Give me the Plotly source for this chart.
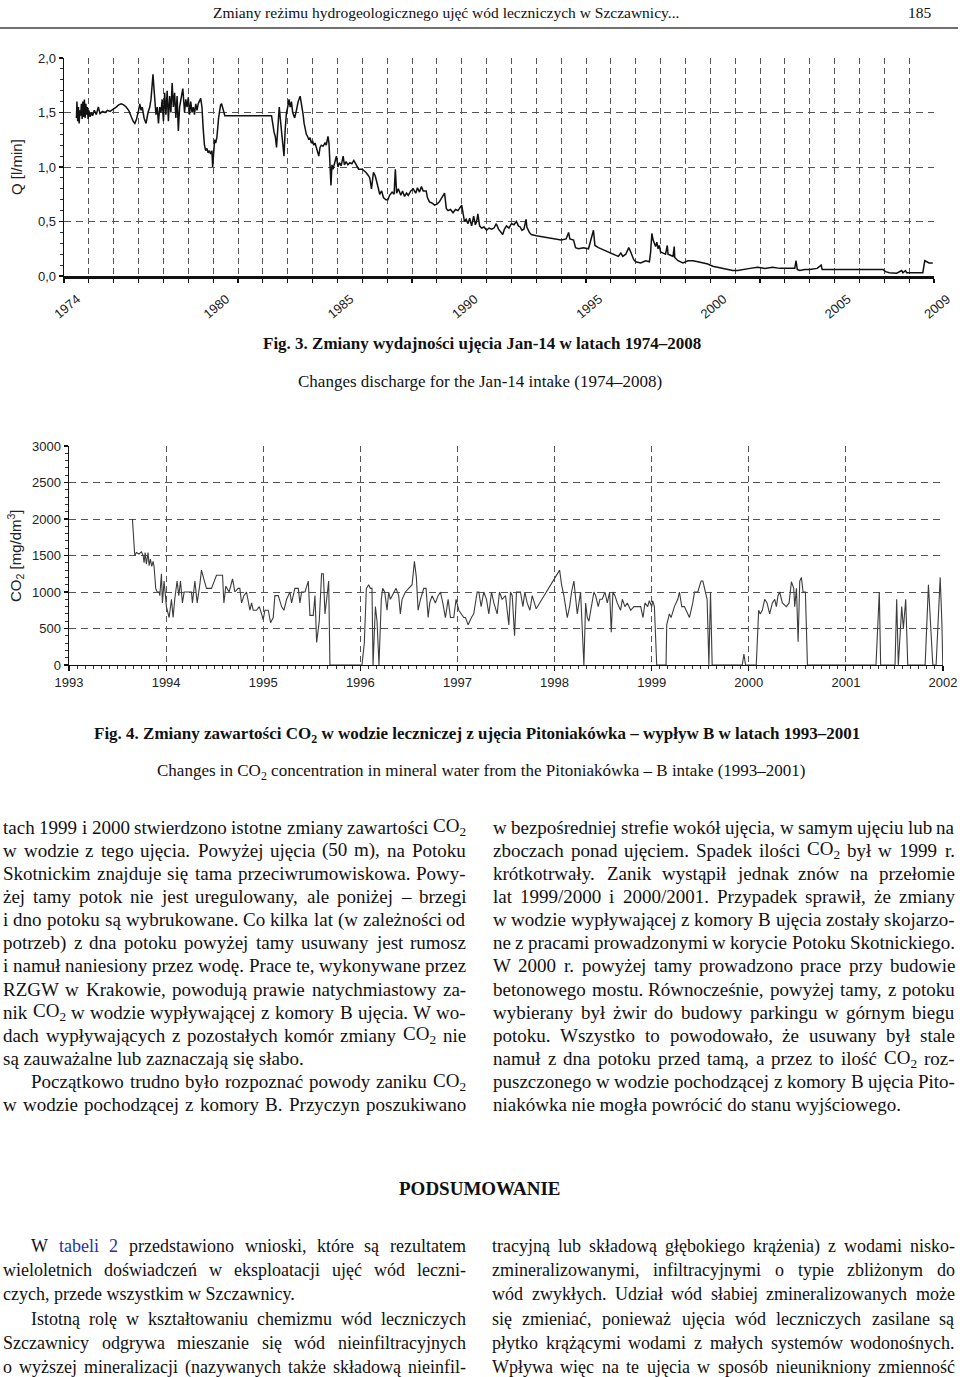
import plotly.graph_objects as go

W, H = 960, 1377

# ---------------- data: Fig. 3 (discharge Q, l/min) ----------------
q_year = [1974.50, 1974.52, 1974.55, 1974.58, 1974.61, 1974.64, 1974.67, 1974.70, 1974.73, 1974.76,
          1974.79, 1974.82, 1974.85, 1974.88, 1974.91, 1974.94, 1974.97, 1975.00, 1975.05, 1975.10,
          1975.15, 1975.22, 1975.30, 1975.38, 1975.45, 1975.55, 1975.65, 1975.75, 1975.85, 1976.00,
          1976.10, 1976.20, 1976.30, 1976.40, 1976.50, 1976.60, 1976.70, 1976.78, 1976.85, 1976.92,
          1977.00, 1977.05, 1977.10, 1977.15, 1977.22, 1977.30, 1977.38, 1977.45, 1977.50, 1977.58,
          1977.62, 1977.65, 1977.70, 1977.75, 1977.80, 1977.85, 1977.90, 1977.95, 1978.00, 1978.05,
          1978.10, 1978.15, 1978.20, 1978.25, 1978.30, 1978.35, 1978.40, 1978.45, 1978.50, 1978.55,
          1978.60, 1978.65, 1978.72, 1978.78, 1978.85, 1978.90, 1978.95, 1979.00, 1979.05, 1979.10,
          1979.15, 1979.20, 1979.25, 1979.30, 1979.35, 1979.40, 1979.50, 1979.55, 1979.60, 1979.65,
          1979.70, 1979.75, 1979.80, 1979.85, 1979.90, 1979.95, 1979.98, 1980.02, 1980.06, 1980.10,
          1980.15, 1980.22, 1980.30, 1980.34, 1980.40, 1980.47, 1982.35, 1982.40, 1982.45, 1982.50,
          1982.55, 1982.60, 1982.66, 1982.72, 1982.80, 1982.85, 1982.90, 1982.95, 1983.00, 1983.05,
          1983.10, 1983.15, 1983.20, 1983.28, 1983.35, 1983.42, 1983.50, 1983.56, 1983.62, 1983.66,
          1983.70, 1983.75, 1983.80, 1983.85, 1983.90, 1983.95, 1984.00, 1984.05, 1984.10, 1984.15,
          1984.25, 1984.30, 1984.35, 1984.42, 1984.50, 1984.55, 1984.62, 1984.66, 1984.70, 1984.74,
          1984.78, 1984.82, 1984.88, 1984.96, 1985.02, 1985.08, 1985.15, 1985.23, 1985.28, 1985.35,
          1985.42, 1985.50, 1985.58, 1985.66, 1985.76, 1985.85, 1986.00, 1986.15, 1986.25, 1986.30,
          1986.37, 1986.45, 1986.52, 1986.58, 1986.65, 1986.70, 1986.78, 1986.85, 1986.95, 1987.03,
          1987.10, 1987.20, 1987.28, 1987.33, 1987.38, 1987.45, 1987.55, 1987.62, 1987.70, 1987.78,
          1987.85, 1987.95, 1988.05, 1988.15, 1988.22, 1988.30, 1988.38, 1988.45, 1988.57, 1988.62,
          1988.70, 1988.80, 1988.91, 1989.00, 1989.10, 1989.20, 1989.31, 1989.38, 1989.45, 1989.55,
          1989.65, 1989.75, 1989.85, 1990.00, 1990.11, 1990.18, 1990.25, 1990.32, 1990.40, 1990.48,
          1990.55, 1990.60, 1990.65, 1990.72, 1990.80, 1990.90, 1991.00, 1991.10, 1991.20, 1991.30,
          1991.39, 1991.48, 1991.58, 1991.65, 1991.72, 1991.80, 1991.90, 1992.00, 1992.10, 1992.20,
          1992.28, 1992.35, 1992.42, 1992.50, 1992.59, 1992.62, 1992.72, 1992.80, 1993.00, 1993.30,
          1993.60, 1993.90, 1994.00, 1994.20, 1994.30, 1994.35, 1994.50, 1994.58, 1994.70, 1994.90,
          1995.10, 1995.30, 1995.36, 1995.50, 1995.70, 1995.90, 1996.10, 1996.30, 1996.40, 1996.48,
          1996.60, 1996.72, 1996.80, 1996.92, 1997.00, 1997.20, 1997.40, 1997.55, 1997.60, 1997.65,
          1997.70, 1997.75, 1997.80, 1997.85, 1997.90, 1997.95, 1998.00, 1998.10, 1998.20, 1998.27,
          1998.30, 1998.40, 1998.50, 1998.55, 1998.57, 1998.70, 1998.90, 1999.10, 1999.30, 1999.50,
          1999.70, 1999.90, 2000.10, 2000.30, 2000.50, 2000.70, 2000.90, 2001.10, 2001.30, 2001.60,
          2001.90, 2002.20, 2002.50, 2002.80, 2003.10, 2003.40, 2003.45, 2003.50, 2003.60, 2003.80,
          2004.00, 2004.30, 2004.46, 2004.50, 2005.00, 2005.50, 2006.00, 2006.95, 2007.05, 2007.20,
          2007.50, 2007.70, 2007.75, 2007.85, 2007.90, 2008.20, 2008.55, 2008.63, 2008.70, 2008.80,
          2008.95]
q_value = [1.45, 1.60, 1.42, 1.55, 1.40, 1.52, 1.47, 1.58, 1.44, 1.60,
           1.46, 1.62, 1.45, 1.58, 1.48, 1.55, 1.44, 1.52, 1.46, 1.50,
           1.47, 1.52, 1.48, 1.55, 1.49, 1.51, 1.50, 1.52, 1.51, 1.53,
           1.55, 1.57, 1.58, 1.57, 1.55, 1.52, 1.46, 1.42, 1.40, 1.44,
           1.52, 1.58, 1.52, 1.55, 1.45, 1.40, 1.50, 1.55, 1.62, 1.85,
           1.72, 1.60, 1.48, 1.55, 1.40, 1.55, 1.50, 1.62, 1.42, 1.68,
           1.48, 1.70, 1.42, 1.65, 1.50, 1.77, 1.55, 1.68, 1.45, 1.65,
           1.33, 1.55, 1.66, 1.72, 1.50, 1.62, 1.55, 1.64, 1.48, 1.60,
           1.50, 1.55, 1.48, 1.58, 1.52, 1.58, 1.63, 1.55, 1.35, 1.20,
           1.15, 1.17, 1.13, 1.15, 1.12, 1.15, 1.00, 1.18, 1.25, 1.22,
           1.27, 1.45, 1.57, 1.58, 1.52, 1.47, 1.47, 1.38, 1.32, 1.28,
           1.18, 1.35, 1.55, 1.40, 1.20, 1.10, 1.35, 1.50, 1.55, 1.62,
           1.55, 1.60, 1.50, 1.45, 1.52, 1.60, 1.65, 1.58, 1.48, 1.40,
           1.35, 1.30, 1.28, 1.25, 1.27, 1.22, 1.24, 1.20, 1.22, 1.18,
           1.10, 1.18, 1.20, 1.19, 1.22, 1.20, 1.28, 1.22, 1.00, 0.83,
           1.02, 0.98, 1.03, 1.10, 1.00, 1.04, 1.01, 1.10, 1.02, 1.05,
           1.02, 1.04, 1.03, 1.06, 1.02, 0.98, 0.98, 0.95, 0.92, 0.90,
           0.80, 0.95, 0.92, 0.85, 0.80, 0.75, 0.78, 0.72, 0.70, 0.70,
           0.74, 0.77, 0.75, 0.98, 0.76, 0.80, 0.74, 0.78, 0.73, 0.76,
           0.74, 0.78, 0.80, 0.76, 0.81, 0.77, 0.82, 0.78, 0.78, 0.72,
           0.68, 0.67, 0.65, 0.66, 0.68, 0.72, 0.76, 0.62, 0.60, 0.61,
           0.58, 0.61, 0.60, 0.65, 0.50, 0.52, 0.48, 0.53, 0.46, 0.55,
           0.47, 0.50, 0.57, 0.46, 0.44, 0.45, 0.42, 0.44, 0.43, 0.44,
           0.48, 0.43, 0.40, 0.38, 0.43, 0.46, 0.44, 0.48, 0.47, 0.50,
           0.46, 0.45, 0.42, 0.43, 0.52, 0.45, 0.40, 0.38, 0.37, 0.36,
           0.35, 0.34, 0.33, 0.34, 0.40, 0.34, 0.33, 0.26, 0.25, 0.26,
           0.25, 0.42, 0.28, 0.26, 0.24, 0.22, 0.20, 0.18, 0.21, 0.18,
           0.20, 0.26, 0.22, 0.15, 0.13, 0.12, 0.14, 0.13, 0.22, 0.39,
           0.33, 0.30, 0.27, 0.31, 0.25, 0.28, 0.22, 0.21, 0.20, 0.28,
           0.20, 0.19, 0.18, 0.27, 0.17, 0.14, 0.12, 0.14, 0.14, 0.13,
           0.12, 0.11, 0.09, 0.08, 0.07, 0.06, 0.05, 0.05, 0.06, 0.07,
           0.08, 0.07, 0.08, 0.07, 0.07, 0.07, 0.14, 0.06, 0.05, 0.06,
           0.06, 0.07, 0.10, 0.06, 0.06, 0.06, 0.06, 0.06, 0.04, 0.03,
           0.025, 0.05, 0.03, 0.05, 0.03, 0.03, 0.03, 0.14, 0.13, 0.12,
           0.12]

q_labeled_years = [1974, 1980, 1985, 1990, 1995, 2000, 2005, 2009]
q_y_ticks = [0.0, 0.5, 1.0, 1.5, 2.0]
q_y_labels = ["0,0", "0,5", "1,0", "1,5", "2,0"]

# ---------------- data: Fig. 4 (CO2, mg/dm3) ----------------
co2_year = [1993.653, 1993.677, 1993.694, 1993.720, 1993.746, 1993.763, 1993.773, 1993.784, 1993.797, 1993.814,
            1993.825, 1993.838, 1993.852, 1993.866, 1993.876, 1993.893, 1993.907, 1993.928, 1993.935, 1993.952,
            1993.962, 1993.979, 1994.003, 1994.031, 1994.055, 1994.072, 1994.089, 1994.113, 1994.131, 1994.148,
            1994.168, 1994.186, 1994.261, 1994.271, 1994.296, 1994.320, 1994.347, 1994.364, 1994.388, 1994.416,
            1994.467, 1994.519, 1994.581, 1994.595, 1994.615, 1994.649, 1994.684, 1994.708, 1994.742, 1994.759,
            1994.777, 1994.801, 1994.828, 1994.845, 1994.863, 1994.880, 1994.897, 1994.931, 1994.959, 1994.983,
            1995.000, 1995.017, 1995.052, 1995.076, 1995.103, 1995.120, 1995.155, 1995.189, 1995.213, 1995.241,
            1995.275, 1995.292, 1995.326, 1995.361, 1995.378, 1995.395, 1995.430, 1995.464, 1995.481, 1995.515,
            1995.533, 1995.550, 1995.577, 1995.601, 1995.619, 1995.636, 1995.660, 1995.674, 1995.687, 1996.017,
            1996.041, 1996.062, 1996.086, 1996.103, 1996.120, 1996.131, 1996.155, 1996.172, 1996.192, 1996.216,
            1996.230, 1996.251, 1996.275, 1996.292, 1996.309, 1996.344, 1996.368, 1996.395, 1996.412, 1996.430,
            1996.464, 1996.498, 1996.533, 1996.557, 1996.577, 1996.595, 1996.619, 1996.653, 1996.677, 1996.698,
            1996.715, 1996.739, 1996.773, 1996.801, 1996.825, 1996.849, 1996.876, 1996.904, 1996.928, 1996.962,
            1996.986, 1997.014, 1997.041, 1997.065, 1997.082, 1997.110, 1997.144, 1997.168, 1997.203, 1997.220,
            1997.244, 1997.271, 1997.299, 1997.323, 1997.351, 1997.375, 1997.409, 1997.433, 1997.460, 1997.495,
            1997.529, 1997.546, 1997.564, 1997.588, 1997.608, 1997.649, 1997.674, 1997.694, 1997.718, 1997.746,
            1997.770, 1997.811, 1998.052, 1998.072, 1998.096, 1998.131, 1998.155, 1998.175, 1998.199, 1998.216,
            1998.234, 1998.268, 1998.285, 1998.302, 1998.320, 1998.337, 1998.354, 1998.381, 1998.405, 1998.423,
            1998.450, 1998.467, 1998.491, 1998.519, 1998.543, 1998.567, 1998.584, 1998.601, 1998.622, 1998.646,
            1998.680, 1998.698, 1998.725, 1998.749, 1998.784, 1998.818, 1998.852, 1998.887, 1998.911, 1998.931,
            1998.959, 1998.976, 1999.000, 1999.010, 1999.028, 1999.052, 1999.148, 1999.155, 1999.182, 1999.200,
            1999.234, 1999.269, 1999.286, 1999.310, 1999.337, 1999.389, 1999.423, 1999.441, 1999.475, 1999.509,
            1999.527, 1999.544, 1999.571, 1999.589, 1999.606, 1999.623, 1999.933, 1999.950, 1999.967, 2000.077,
            2000.102, 2000.119, 2000.139, 2000.164, 2000.188, 2000.215, 2000.243, 2000.267, 2000.284, 2000.301,
            2000.318, 2000.346, 2000.387, 2000.415, 2000.439, 2000.463, 2000.473, 2000.491, 2000.508, 2000.525,
            2000.542, 2000.559, 2000.583, 2000.604, 2001.310, 2001.344, 2001.358, 2001.506, 2001.523, 2001.540,
            2001.575, 2001.592, 2001.616, 2001.637, 2001.816, 2001.850, 2001.895, 2001.929, 2001.971, 2001.988,
            2001.998]
co2_value = [2000, 1500, 1540, 1520, 1550, 1500, 1400, 1540, 1380, 1540,
             1360, 1450, 1350, 1420, 1350, 1050, 1000, 1000, 950, 1250,
             850, 1150, 800, 650, 900, 650, 900, 1150, 950, 1150,
             850, 1000, 1000, 850, 1150, 850, 1100, 1300, 1180, 1050,
             1050, 1230, 1230, 850, 1080, 1000, 1180, 1000, 1050, 1050,
             850, 950, 1000, 850, 750, 850, 750, 750, 800, 700,
             620, 750, 750, 580, 650, 950, 950, 800, 750, 900,
             1000, 850, 1050, 1050, 850, 1000, 1000, 1150, 680, 680,
             950, 310, 600, 1250, 1250, 700, 1000, 1150, 0, 0,
             300, 1050, 1100, 1050, 1050, 0, 800, 600, 0, 900,
             1050, 1000, 750, 1000, 900, 1000, 1050, 950, 700, 900,
             1000, 1050, 1100, 1420, 1200, 750, 900, 1050, 1050, 650,
             850, 950, 850, 950, 1000, 850, 650, 900, 650, 650,
             900, 750, 700, 650, 650, 550, 650, 700, 1000, 1000,
             800, 1000, 900, 700, 1000, 850, 700, 1000, 900, 950,
             550, 1000, 950, 400, 1000, 1000, 800, 1000, 850, 750,
             950, 770, 1300, 1100, 950, 650, 800, 1000, 1150, 900,
             700, 1000, 550, 0, 850, 650, 600, 800, 1000, 950,
             800, 900, 900, 1000, 850, 1000, 450, 1000, 950, 850,
             750, 900, 800, 850, 750, 800, 800, 800, 650, 850,
             800, 880, 800, 880, 800, 0, 0, 550, 700, 650,
             800, 900, 1000, 800, 800, 650, 850, 1000, 1000, 1150,
             1150, 1050, 900, 0, 1000, 0, 0, 150, 0, 0,
             750, 700, 750, 900, 850, 700, 850, 900, 800, 950,
             1000, 850, 800, 850, 1140, 1050, 800, 1050, 320, 1150,
             1200, 1000, 1000, 0, 0, 1000, 0, 0, 900, 0,
             800, 500, 900, 0, 0, 1100, 0, 0, 1200, 600,
             0]

co2_tick_years = list(range(1993, 2003))
co2_y_ticks = [0, 500, 1000, 1500, 2000, 2500, 3000]

# ---------------- page text ----------------
header_text = "Zmiany reżimu hydrogeologicznego ujęć wód leczniczych w Szczawnicy..."
page_number = "185"
fig3_title_pl = "<b>Fig. 3. Zmiany wydajności ujęcia Jan-14 w latach 1974–2008</b>"
fig3_title_en = "Changes discharge for the Jan-14 intake (1974–2008)"
fig4_title_pl = "<b>Fig. 4. Zmiany zawartości CO<sub>2</sub> w wodzie leczniczej z ujęcia Pitoniakówka – wypływ B w latach 1993–2001</b>"
fig4_title_en = "Changes in CO<sub>2</sub> concentration in mineral water from the Pitoniakówka – B intake (1993–2001)"
section_title = "<b>PODSUMOWANIE</b>"

# (text, justified, indent)
body_left = [
    ("tach 1999 i 2000 stwierdzono istotne zmiany zawartości CO₂", True, 0),
    ("w wodzie z tego ujęcia. Powyżej ujęcia (50 m), na Potoku", True, 0),
    ("Skotnickim znajduje się tama przeciwrumowiskowa. Powy-", True, 0),
    ("żej tamy potok nie jest uregulowany, ale poniżej – brzegi", True, 0),
    ("i dno potoku są wybrukowane. Co kilka lat (w zależności od", True, 0),
    ("potrzeb) z dna potoku powyżej tamy usuwany jest rumosz", True, 0),
    ("i namuł naniesiony przez wodę. Prace te, wykonywane przez", True, 0),
    ("RZGW w Krakowie, powodują prawie natychmiastowy za-", True, 0),
    ("nik CO₂ w wodzie wypływającej z komory B ujęcia. W wo-", True, 0),
    ("dach wypływających z pozostałych komór zmiany CO₂ nie", True, 0),
    ("są zauważalne lub zaznaczają się słabo.", False, 0),
    ("Początkowo trudno było rozpoznać powody zaniku CO₂", True, 28),
    ("w wodzie pochodzącej z komory B. Przyczyn poszukiwano", True, 0),
]
body_right = [
    ("w bezpośredniej strefie wokół ujęcia, w samym ujęciu lub na", True, 0),
    ("zboczach ponad ujęciem. Spadek ilości CO₂ był w 1999 r.", True, 0),
    ("krótkotrwały. Zanik wystąpił jednak znów na przełomie", True, 0),
    ("lat 1999/2000 i 2000/2001. Przypadek sprawił, że zmiany", True, 0),
    ("w wodzie wypływającej z komory B ujęcia zostały skojarzo-", True, 0),
    ("ne z pracami prowadzonymi w korycie Potoku Skotnickiego.", True, 0),
    ("W 2000 r. powyżej tamy prowadzono prace przy budowie", True, 0),
    ("betonowego mostu. Równocześnie, powyżej tamy, z potoku", True, 0),
    ("wybierany był żwir do budowy parkingu w górnym biegu", True, 0),
    ("potoku. Wszystko to powodowało, że usuwany był stale", True, 0),
    ("namuł z dna potoku przed tamą, a przez to ilość CO₂ roz-", True, 0),
    ("puszczonego w wodzie pochodzącej z komory B ujęcia Pito-", True, 0),
    ("niakówka nie mogła powrócić do stanu wyjściowego.", False, 0),
]
summary_left = [
    ("W tabeli 2 przedstawiono wnioski, które są rezultatem", True, 28),
    ("wieloletnich doświadczeń w eksploatacji ujęć wód leczni-", True, 0),
    ("czych, przede wszystkim w Szczawnicy.", False, 0),
    ("Istotną rolę w kształtowaniu chemizmu wód leczniczych", True, 28),
    ("Szczawnicy odgrywa mieszanie się wód nieinfiltracyjnych", True, 0),
    ("o wyższej mineralizacji (nazywanych także składową nieinfil-", True, 0),
]
summary_right = [
    ("tracyjną lub składową głębokiego krążenia) z wodami nisko-", True, 0),
    ("zmineralizowanymi, infiltracyjnymi o typie zbliżonym do", True, 0),
    ("wód zwykłych. Udział wód słabiej zmineralizowanych może", True, 0),
    ("się zmieniać, ponieważ ujęcia wód leczniczych zasilane są", True, 0),
    ("płytko krążącymi wodami z małych systemów wodonośnych.", True, 0),
    ("Wpływa więc na te ujęcia w sposób nieunikniony zmienność", True, 0),
]
blue_words = {"tabeli", "2"}

# ---------------- helpers ----------------
def px(x):
    return x / W

def py(y):
    return 1 - y / H

TIMES = {' ': 250, '!': 333, '(': 333, ')': 333, ',': 250, '-': 333, '.': 250, '/': 278, ':': 278,
         ';': 278, '?': 444, '–': 500,
         'A': 722, 'B': 667, 'C': 667, 'D': 722, 'E': 611, 'F': 556, 'G': 722, 'H': 722, 'I': 333,
         'J': 389, 'K': 722, 'L': 611, 'M': 889, 'N': 722, 'O': 722, 'P': 556, 'Q': 722, 'R': 667,
         'S': 556, 'T': 611, 'U': 722, 'V': 722, 'W': 944, 'X': 722, 'Y': 722, 'Z': 611,
         'a': 444, 'b': 500, 'c': 444, 'd': 500, 'e': 444, 'f': 333, 'g': 500, 'h': 500, 'i': 278,
         'j': 278, 'k': 500, 'l': 278, 'm': 778, 'n': 500, 'o': 500, 'p': 500, 'q': 500, 'r': 333,
         's': 389, 't': 278, 'u': 500, 'v': 500, 'w': 722, 'x': 500, 'y': 500, 'z': 444}
for d in '0123456789':
    TIMES[d] = 500
POL = {'ą': 'a', 'ę': 'e', 'ć': 'c', 'ł': 'l', 'ń': 'n', 'ó': 'o', 'ś': 's', 'ź': 'z', 'ż': 'z',
       'Ł': 'L', 'Ś': 'S', 'Ż': 'Z', 'Ź': 'Z', 'Ó': 'O', 'Ć': 'C', 'Ą': 'A', 'Ę': 'E', 'Ń': 'N'}

def word_width(word, size):
    total = 0
    for ch in word:
        if ch == '₂':
            total += 350
        else:
            total += TIMES.get(POL.get(ch, ch), 500)
    return total * size / 1000.0

def markup(word):
    return word.replace('₂', '<sub>2</sub>')

annotations = []

def add_text(text, x, y, size, anchor='center', color='#111', family='Liberation Serif', angle=0):
    annotations.append(dict(text=text, x=px(x), y=py(y), xref='paper', yref='paper', xanchor=anchor,
                            yanchor='middle', showarrow=False, borderpad=0, borderwidth=0, textangle=angle,
                            font=dict(family=family, size=size, color=color)))

def add_paragraph(lines, x0, x1, y0, dy, size, blue_line=None):
    for i, (text, justify, indent) in enumerate(lines):
        y = y0 + i * dy
        left = x0 + indent
        words = text.split(' ')
        if not justify or len(words) < 2:
            add_text(markup(text), left, y, size, anchor='left')
            continue
        widths = [word_width(w, size) for w in words]
        gap = (x1 - left - sum(widths)) / (len(words) - 1)
        gap = max(gap, 3.0)
        xpos = left
        for j, w in enumerate(words):
            col = '#2233aa' if (blue_line == i and w in blue_words) else '#111'
            if j == len(words) - 1:
                add_text(markup(w), x1, y, size, anchor='right', color=col)
            else:
                add_text(markup(w), xpos, y, size, anchor='left', color=col)
            xpos += widths[j] + gap

# ---------------- figure ----------------
fig = go.Figure()
fig.add_trace(go.Scatter(x=q_year, y=q_value, mode='lines', xaxis='x', yaxis='y',
                         line=dict(color='#111111', width=1.5), hoverinfo='skip', showlegend=False))
fig.add_trace(go.Scatter(x=co2_year, y=co2_value, mode='lines', xaxis='x2', yaxis='y2',
                         line=dict(color='#3c3c3c', width=1.1), hoverinfo='skip', showlegend=False))

grid_col = '#555555'
tick_font = dict(family='Liberation Sans', size=13, color='#222')
common = dict(automargin=False, zeroline=False, fixedrange=True)

fig.update_layout(
    template='none',
    width=W, height=H, margin=dict(l=0, r=0, t=0, b=0, pad=0), autosize=False,
    paper_bgcolor='white', plot_bgcolor='white', showlegend=False,
    xaxis=dict(domain=[px(64), px(934)], range=[1974, 2009], anchor='y',
               tickmode='array', tickvals=q_labeled_years, ticktext=[str(v) for v in q_labeled_years],
               tickangle=-40, tickfont=tick_font, ticklabelshift=13, ticklabelstandoff=4,
               showgrid=True, gridcolor=grid_col, griddash='6px,4px', gridwidth=1,
               showline=True, linecolor='#111', linewidth=2.6,
               ticks='outside', ticklen=4, tickwidth=1.2, tickcolor='#111',
               minor=dict(tickmode='linear', tick0=1974, dtick=1, ticks='outside', ticklen=4,
                          tickwidth=1.2, tickcolor='#111', showgrid=True, gridcolor=grid_col,
                          griddash='6px,4px', gridwidth=1),
               **common),
    yaxis=dict(domain=[py(276), py(58)], range=[0, 2.0], anchor='x',
               tickmode='array', tickvals=q_y_ticks, ticktext=q_y_labels, tickfont=tick_font,
               showgrid=True, gridcolor=grid_col, griddash='7px,5px', gridwidth=1,
               showline=True, linecolor='#111', linewidth=1.4,
               ticks='outside', ticklen=4, tickwidth=1.2, tickcolor='#111',
               minor=dict(tickmode='linear', tick0=0, dtick=0.1, ticks='outside', ticklen=3,
                          tickwidth=1, tickcolor='#333', showgrid=False),
               **common),
    xaxis2=dict(domain=[px(69), px(943)], range=[1993, 2002], anchor='y2',
                tickmode='array', tickvals=co2_tick_years, ticktext=[str(v) for v in co2_tick_years],
                tickfont=tick_font,
                showgrid=True, gridcolor=grid_col, griddash='6px,4px', gridwidth=1,
                showline=True, linecolor='#111', linewidth=1.4,
                ticks='outside', ticklen=5, tickwidth=1.2, tickcolor='#111',
                minor=dict(tickmode='linear', tick0=1993, dtick=1 / 12, ticks='outside', ticklen=3,
                           tickwidth=1, tickcolor='#333', showgrid=False),
                **common),
    yaxis2=dict(domain=[py(665), py(446)], range=[0, 3000], anchor='x2',
                tickmode='array', tickvals=co2_y_ticks, ticktext=[str(v) for v in co2_y_ticks],
                tickfont=tick_font,
                showgrid=True, gridcolor=grid_col, griddash='7px,5px', gridwidth=1,
                showline=True, linecolor='#111', linewidth=1.4,
                ticks='outside', ticklen=4, tickwidth=1.2, tickcolor='#111',
                minor=dict(tickmode='linear', tick0=0, dtick=100, ticks='outside', ticklen=3,
                           tickwidth=1, tickcolor='#333', showgrid=False),
                **common),
)

# header and rule
add_text(header_text, 446, 12, 15.5)
add_text(page_number, 920, 12, 15.5)
fig.add_shape(type='line', xref='paper', yref='paper', x0=px(0), x1=px(958), y0=py(28), y1=py(28),
              line=dict(color='#707070', width=2))

# axis titles
add_text("Q [l/min]", 17, 167, 15, family='Liberation Sans', angle=-90, color='#222')
add_text("CO<sub>2</sub> [mg/dm<sup>3</sup>]", 15, 556, 15, family='Liberation Sans', angle=-90, color='#222')

# captions
add_text(fig3_title_pl, 482, 343, 17)
add_text(fig3_title_en, 480, 381, 17)
add_text(fig4_title_pl, 477, 735, 17)
add_text(fig4_title_en, 481, 772, 17)
add_text(section_title, 480, 1188, 19)

# body text
add_paragraph(body_left, 3, 466, 827, 23.15, 19)
add_paragraph(body_right, 493, 955, 827, 23.15, 19)
add_paragraph(summary_left, 3, 466, 1246, 24.2, 18, blue_line=0)
add_paragraph(summary_right, 492, 955, 1246, 24.2, 18)

fig.update_layout(annotations=annotations)
fig.write_html("out.html", config={'displayModeBar': False, 'staticPlot': True},
               post_script="document.body.style.margin='0';document.body.style.padding='0';"
                           "document.body.style.overflow='hidden';")
